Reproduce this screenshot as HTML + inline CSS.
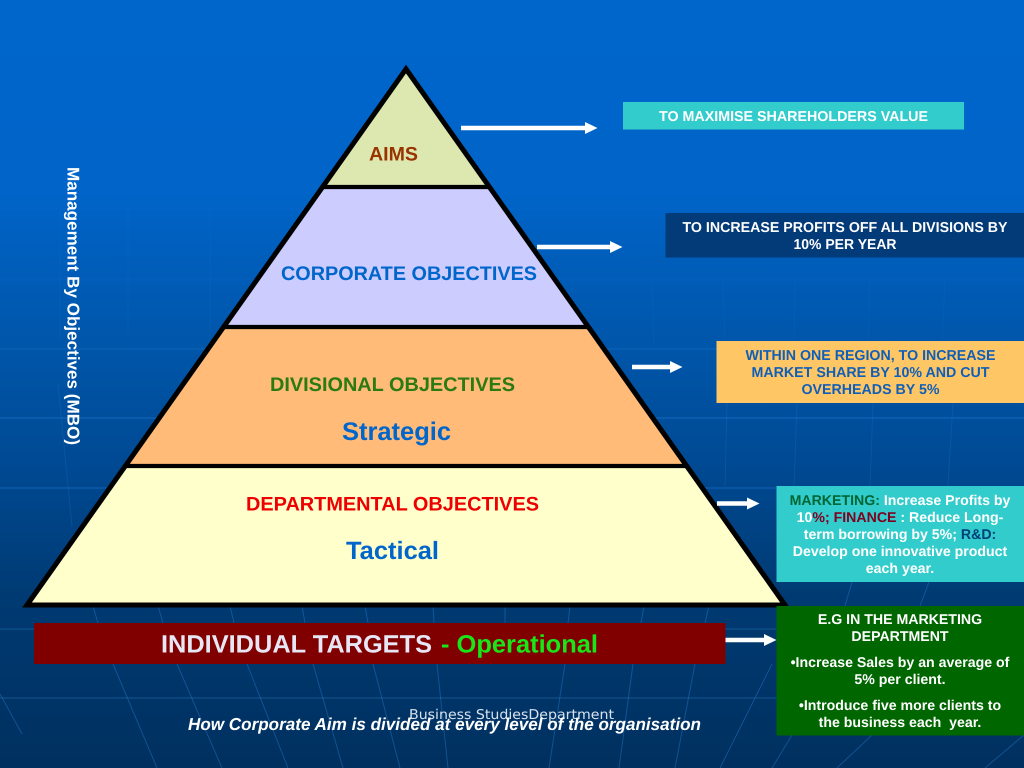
<!DOCTYPE html>
<html>
<head>
<meta charset="utf-8">
<style>
html,body{margin:0;padding:0;background:#003366}
svg{display:block}
text{font-family:"Liberation Sans",sans-serif;font-weight:bold;text-rendering:geometricPrecision}
.c{text-anchor:middle}
.b{font-size:14.3px;fill:#fff}
.d{font-size:14.15px;fill:#fff}
.y{font-size:14.3px;fill:#0f5fb8}
</style>
</head>
<body>
<svg width="1024" height="768" viewBox="0 0 1024 768" xmlns="http://www.w3.org/2000/svg">
<defs>
<linearGradient id="bg" x1="0" y1="0" x2="0" y2="1">
<stop offset="0" stop-color="#0066cc"/>
<stop offset="0.25" stop-color="#0064c8"/>
<stop offset="0.42" stop-color="#0058ae"/>
<stop offset="0.6" stop-color="#004a94"/>
<stop offset="0.78" stop-color="#003a72"/>
<stop offset="1" stop-color="#00305f"/>
</linearGradient>
</defs>
<rect width="1024" height="768" fill="url(#bg)"/>
<g fill="none" stroke-width="1">
<g stroke="#1a78d8" stroke-opacity="0.14">
<path d="M0 209H1024M0 279H1024"/>
<path d="M60 210V340M128 210V340M210 210V340M652 280L654 345M723 280L725 345M795 280L794 345M870 280L868 345M945 280L942 345"/>
</g>
<g stroke="#1f7fdc" stroke-opacity="0.4">
<path d="M0 349H1024"/>
</g>
<g stroke="#1f7fdc" stroke-opacity="0.55">
<path d="M0 418H1024M0 488H1024"/>
</g>
<g stroke="#1f7fdc" stroke-opacity="0.22">
<path d="M58 384L72 527M727 403L725 486M797 403L794 486M873 403L870 486M953 403L948 486"/>
</g>
<g stroke="#2a7fd0" stroke-opacity="0.42">
<path d="M0 629H1024M0 698H1024"/>
<path d="M93 606L98 623M158 606L163 623M230 606L234 623M302 606L305 623M365 606L368 623M433 606L434 623M505 606L505 623M570 606L568 623M644 606L641 623M709 606L705 623"/>
<path d="M113 664L157 768M177 664L222 768M247 664L288 768M313 664L343 768M373 664L400 768M437 664L448 768M565 664L549 768M633 664L619 768M695 664L675 768M772 664L720 768M0 694L22 734M792 735L772 768M872 735L837 768M1024 735L985 768M852 582L845 606M929 582L920 606"/>
</g>
</g>

<!-- pyramid -->
<polygon points="406,68 323,187 490,187" fill="#dde8b0"/>
<polygon points="323,187 490,187 588,327 225,327" fill="#ccccff"/>
<polygon points="225,327 588,327 686,466 127,466" fill="#ffbb77"/>
<polygon points="127,466 686,466 785,605 27,605" fill="#ffffcc"/>
<g stroke="#000" fill="none">
<path d="M322 187H491M224 327H589M126 466H687" stroke-width="4.300"/>
<polygon points="406,69 785,605 27,605" stroke-width="5" stroke-linejoin="miter" stroke-miterlimit="10"/>
</g>

<text x="369" y="160.500" font-size="19.600" fill="#993300" textLength="49" lengthAdjust="spacingAndGlyphs">AIMS</text>
<text x="281" y="280" font-size="19.700" fill="#0066cc" textLength="256" lengthAdjust="spacingAndGlyphs">CORPORATE OBJECTIVES</text>
<text x="270" y="391" font-size="19.700" fill="#2b7a12" textLength="245" lengthAdjust="spacingAndGlyphs">DIVISIONAL OBJECTIVES</text>
<text x="342" y="440" font-size="25.500" fill="#0066cc" textLength="109" lengthAdjust="spacingAndGlyphs">Strategic</text>
<text x="246" y="510.300" font-size="19.700" fill="#ee0000" textLength="293" lengthAdjust="spacingAndGlyphs">DEPARTMENTAL OBJECTIVES</text>
<text x="346" y="559" font-size="25" fill="#0066cc" textLength="93" lengthAdjust="spacingAndGlyphs">Tactical</text>

<!-- vertical label -->
<text transform="translate(67.500,167) rotate(90)" font-size="17" fill="#fff" textLength="278" lengthAdjust="spacingAndGlyphs">Management By Objectives (MBO)</text>

<!-- arrows -->
<g fill="#fff">
<path d="M461 125.800H585V122L597.500 128L585 134V130.200H461Z"/>
<path d="M537 244.800H610V241L622.500 247L610 253V249.200H537Z"/>
<path d="M632 364.800H670V361L682.500 367L670 373V369.200H632Z"/>
<path d="M717 501.300H747V497.500L759.500 503.500L747 509.500V505.700H717Z"/>
<path d="M725.500 637.800H764V634L776.500 640L764 646V642.200H725.500Z"/>
</g>

<!-- box 1 -->
<rect x="623" y="102" width="341" height="27.500" fill="#33cccc"/>
<text class="c b" x="793.500" y="121" textLength="269" lengthAdjust="spacingAndGlyphs">TO MAXIMISE SHAREHOLDERS VALUE</text>

<!-- box 2 -->
<rect x="665.500" y="213" width="358.500" height="44.500" fill="#033a78"/>
<text class="c b" x="845" y="232" textLength="325" lengthAdjust="spacingAndGlyphs">TO INCREASE PROFITS OFF ALL DIVISIONS BY</text>
<text class="c b" x="845" y="249" textLength="103" lengthAdjust="spacingAndGlyphs">10% PER YEAR</text>

<!-- box 3 -->
<rect x="716.500" y="341" width="307.500" height="62" fill="#ffc666"/>
<text class="c y" x="870.500" y="360" textLength="250" lengthAdjust="spacingAndGlyphs">WITHIN ONE REGION, TO INCREASE</text>
<text class="c y" x="870.500" y="377" textLength="238" lengthAdjust="spacingAndGlyphs">MARKET SHARE BY 10% AND CUT</text>
<text class="c y" x="870.500" y="394" textLength="138" lengthAdjust="spacingAndGlyphs">OVERHEADS BY 5%</text>

<!-- box 4 -->
<rect x="776.500" y="486" width="247.500" height="96" fill="#33cccc"/>
<text class="c d" x="900" y="505"><tspan fill="#006633">MARKETING:</tspan> Increase Profits by</text>
<text class="c d" x="900" y="522">10<tspan fill="#800020">%; FINANCE</tspan> : Reduce Long-</text>
<text class="c d" x="900" y="539">term borrowing by 5%; <tspan fill="#003f7a">R&amp;D:</tspan></text>
<text class="c d" x="900" y="556">Develop one innovative product</text>
<text class="c d" x="900" y="573">each year.</text>

<!-- box 5 -->
<rect x="776.500" y="606" width="247.500" height="129.500" fill="#006600"/>
<text class="c d" x="900" y="624">E.G IN THE MARKETING</text>
<text class="c d" x="900" y="641">DEPARTMENT</text>
<text class="c d" x="900" y="667">•Increase Sales by an average of</text>
<text class="c d" x="900" y="684">5% per client.</text>
<text class="c d" x="900" y="710">•Introduce five more clients to</text>
<text class="c d" x="900" y="727" xml:space="preserve">the business each  year.</text>

<!-- individual bar -->
<rect x="34" y="623" width="691.500" height="41" fill="#800000"/>
<text x="161" y="652.500" font-size="25" fill="#e6e6f5" textLength="271" lengthAdjust="spacingAndGlyphs">INDIVIDUAL TARGETS</text>
<text x="441" y="652.500" font-size="25" fill="#19e619" textLength="157" lengthAdjust="spacingAndGlyphs">- Operational</text>

<!-- footer -->
<text x="409" y="719" style="font-family:'DejaVu Sans',sans-serif;font-weight:normal;font-size:13.500px" fill="#d8e2ee" textLength="205" lengthAdjust="spacingAndGlyphs">Business StudiesDepartment</text>
<text x="188" y="730" font-size="17.300" font-style="italic" fill="#fff" textLength="513" lengthAdjust="spacingAndGlyphs">How Corporate Aim is divided at every level of the organisation</text>
</svg>
</body>
</html>
